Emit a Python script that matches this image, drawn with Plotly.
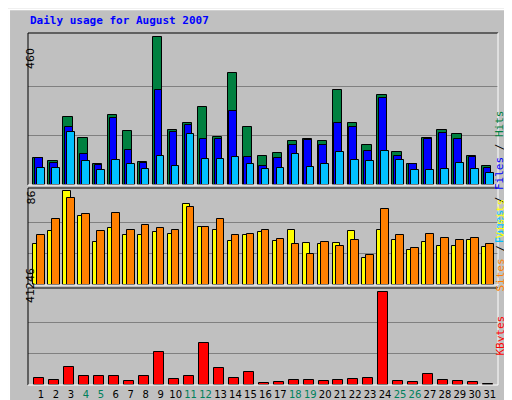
import plotly.graph_objects as go

days = list(range(1, 32))
weekend = [4, 5, 11, 12, 18, 19, 25, 26]

hits = [84, 74, 212, 146, 65, 218, 168, 71, 460, 171, 193, 243, 149, 350, 181, 90,
        99, 137, 143, 137, 297, 193, 124, 281, 102, 65, 146, 171, 159, 90, 59]
files = [84, 68, 181, 96, 62, 209, 109, 68, 297, 165, 187, 143, 143, 231, 87, 59,
         84, 124, 140, 124, 193, 181, 106, 272, 90, 65, 143, 162, 143, 87, 52]
pages = [52, 52, 165, 74, 46, 77, 65, 49, 90, 59, 159, 80, 80, 87, 65, 49,
         52, 96, 55, 65, 102, 77, 74, 106, 77, 46, 46, 49, 68, 49, 37]
visits = [37, 49, 86, 63, 39, 52, 46, 46, 48, 47, 74, 53, 50, 40, 46, 48,
          40, 50, 38, 37, 38, 49, 25, 50, 41, 32, 39, 36, 36, 41, 35]
sites = [46, 60, 79, 65, 49, 66, 50, 55, 52, 50, 71, 53, 60, 46, 47, 50,
         42, 37, 28, 39, 36, 41, 27, 69, 46, 34, 47, 43, 41, 43, 37]
kbytes = [3312, 2408, 7828, 3763, 3763, 3763, 1957, 3763, 14602, 2860, 3763, 18666,
          7376, 3312, 5570, 1054, 1505, 2408, 2408, 1957, 2408, 2860, 3312, 41246,
          1957, 1505, 4667, 2408, 1957, 1505, 600]

W, H = 512, 400
x0, x1 = 20, 490
panels = {"y": (25, 177), "y2": (180, 277), "y3": (280, 377)}

def dom(top, bot):
    return [1 - bot / H, 1 - top / H]

fig = go.Figure()
ln = dict(color="black", width=1)
fig.add_bar(x=days, y=hits, offset=-0.51, width=0.62, marker=dict(color="#008040", line=ln), yaxis="y", xaxis="x")
fig.add_bar(x=days, y=files, offset=-0.4, width=0.51, marker=dict(color="#0000FF", line=ln), yaxis="y", xaxis="x")
fig.add_bar(x=days, y=pages, offset=-0.25, width=0.5, marker=dict(color="#00C0FF", line=ln), yaxis="y", xaxis="x")
fig.add_bar(x=days, y=visits, offset=-0.51, width=0.5, marker=dict(color="#FFFF00", line=ln), yaxis="y2", xaxis="x2")
fig.add_bar(x=days, y=sites, offset=-0.25, width=0.5, marker=dict(color="#FF8000", line=ln), yaxis="y2", xaxis="x2")
fig.add_bar(x=days, y=kbytes, offset=-0.45, width=0.67, marker=dict(color="#FF0000", line=ln), yaxis="y3", xaxis="x3")

xr = [0.13, 31.55]
ticktext = [f"<span style='color:#00805C'>{d}</span>" if d in weekend else str(d) for d in days]
common_x = dict(range=xr, domain=[x0 / W, x1 / W], showgrid=False, zeroline=False,
                fixedrange=True, automargin=False)
gridc = "#808080"

def yax(top, bot, mx, extra):
    return dict(domain=dom(top, bot), range=[0, mx * extra], tickvals=[mx / 3, mx * 2 / 3],
                showticklabels=False, ticks="", showgrid=True, gridcolor=gridc, gridwidth=1,
                zeroline=False, showline=False, automargin=False)

fig.update_layout(
    width=W, height=H, margin=dict(l=0, r=0, t=0, b=0, autoexpand=False),
    paper_bgcolor="#C0C0C0", plot_bgcolor="#C0C0C0",
    showlegend=False, barmode="overlay", bargap=0,
    xaxis=dict(common_x, anchor="y", showticklabels=False),
    xaxis2=dict(common_x, anchor="y2", showticklabels=False),
    xaxis3=dict(common_x, anchor="y3", tickvals=days, ticktext=ticktext, ticks="",
                tickangle=0, ticklabelstandoff=2,
                tickfont=dict(family="DejaVu Sans", size=10, color="black")),
    yaxis=dict(yax(25, 177, max(hits), 1.03), anchor="x"),
    yaxis2=dict(yax(180, 277, max(visits), 1.03), anchor="x2"),
    yaxis3=dict(yax(280, 377, max(kbytes), 1.04), anchor="x3"),
    font=dict(family="DejaVu Sans Mono"),
)

shapes = [
    dict(type="rect", xref="paper", yref="paper", x0=0.002, x1=0.998, y0=0.003, y1=0.997,
         line=dict(color="white", width=2)),
    dict(type="line", xref="paper", yref="paper", x0=0.003, x1=0.997, y0=0.003, y1=0.003,
         line=dict(color="#808080", width=2)),
    dict(type="line", xref="paper", yref="paper", x0=0.997, x1=0.997, y0=0.003, y1=0.997,
         line=dict(color="#808080", width=2)),
]
for top, bot in panels.values():
    d = dom(top, bot)
    shapes += [
        dict(type="line", xref="paper", yref="paper", x0=x0 / W, x1=x1 / W, y0=d[1], y1=d[1], line=dict(color="black", width=1)),
        dict(type="line", xref="paper", yref="paper", x0=x0 / W, x1=x0 / W, y0=d[0], y1=d[1], line=dict(color="black", width=1)),
        dict(type="line", xref="paper", yref="paper", x0=x0 / W, x1=x1 / W, y0=d[0], y1=d[0], line=dict(color="white", width=1)),
        dict(type="line", xref="paper", yref="paper", x0=x1 / W, x1=x1 / W, y0=d[0], y1=d[1], line=dict(color="white", width=1)),
    ]
fig.update_layout(shapes=shapes)

ann = [
    dict(text="<b>Daily usage for August 2007</b>", x=20 / W, y=1 - 12 / H, xanchor="left", yanchor="middle",
         font=dict(color="#0000FF", size=11)),
    dict(text="460", x=14 / W, y=1 - 38 / H, textangle=-90, font=dict(size=11, color="black", family="DejaVu Sans")),
    dict(text="86", x=14 / W, y=1 - 190 / H, textangle=-90, font=dict(size=11, color="black", family="DejaVu Sans")),
    dict(text="41246", x=14 / W, y=1 - 297 / H, textangle=-90, font=dict(size=11, color="black", family="DejaVu Sans")),
    dict(text="<span style='color:#00C0FF'>Pages</span> / <span style='color:#0000FF'>Files</span> / <span style='color:#008040'>Hits</span>",
         x=500 / W, y=1 - 100 / H, textangle=-90, font=dict(size=11, color="black")),
    dict(text="<span style='color:#FF8000'>Sites</span> / <span style='color:#FFFF00'>Visits</span>",
         x=500 / W, y=1 - 237 / H, textangle=-90, font=dict(size=11, color="black")),
    dict(text="<span style='color:#FF0000'>KBytes</span>",
         x=500 / W, y=1 - 350 / H, textangle=-90, font=dict(size=11)),
]
for a in ann:
    a.update(xref="paper", yref="paper", showarrow=False)
fig.update_layout(annotations=ann)

fig.write_html("out.html")
